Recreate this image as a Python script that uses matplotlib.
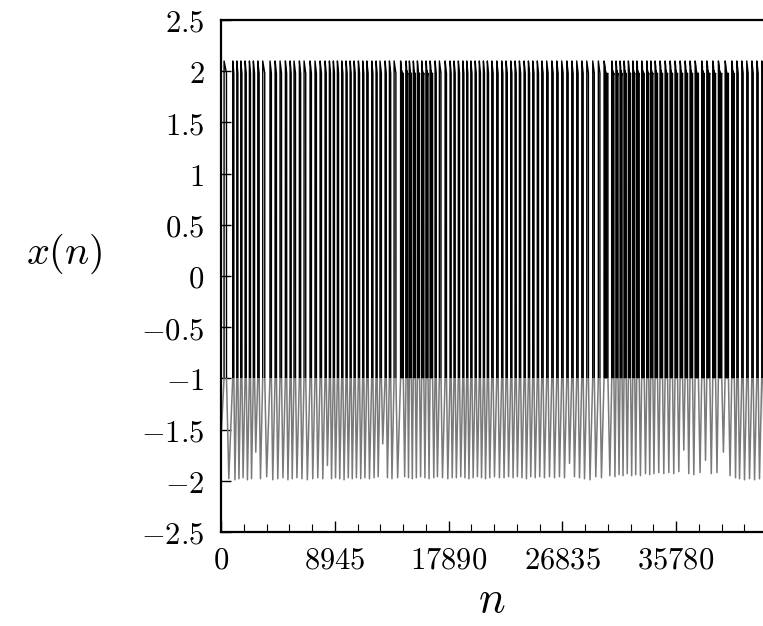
import numpy as np
import matplotlib
matplotlib.use('Agg')
import matplotlib.pyplot as plt
from matplotlib.patches import Rectangle

plt.rcParams['mathtext.fontset'] = 'cm'
plt.rcParams['font.family'] = 'serif'
plt.rcParams['font.serif'] = ['DejaVu Serif']

# spike onsets (n)
spike_n = [240, 920, 1240, 1550, 1890, 2230, 2540, 2890, 3280, 3850,
           4250, 4640, 5060, 5430, 5740, 6160, 6530, 7000, 7390, 7790,
           8180, 8520, 8830, 9150, 9490, 9830, 10150, 10460, 10800, 11140,
           11460, 11850, 12190, 12500, 12900, 13240, 13610, 14120, 14550, 14810,
           15120, 15440, 15780, 16120, 16440, 16830, 17170, 17620, 18010, 18320,
           18660, 19010, 19320, 19640, 19980, 20310, 20630, 20940, 21290, 21680,
           22070, 22410, 22780, 23120, 23460, 23830, 24170, 24510, 24870, 25220,
           25610, 26010, 26400, 26790, 27190, 27580, 27970, 28370, 28760, 29230,
           29670, 30120, 30730, 31060, 31380, 31690, 32030, 32380, 32690, 33080,
           33480, 33790, 34130, 34520, 34920, 35310, 35700, 36100, 36490, 36880,
           37280, 37800, 38200, 38670, 39110, 39640, 40160, 40560, 40950, 41340,
           41740, 42130, 42520]
# lowest value reached after each spike
trough_x = [-1.98, -1.99, -1.98, -1.97, -1.99, -1.98, -1.72, -1.98, -1.96, -1.99,
            -1.98, -1.97, -1.99, -1.98, -1.97, -1.98, -1.99, -1.98, -1.97, -1.98,
            -1.85, -1.98, -1.97, -1.98, -1.99, -1.97, -1.98, -1.97, -1.98, -1.97,
            -1.98, -1.97, -1.96, -1.64, -1.97, -1.98, -1.97, -1.96, -1.97, -1.98,
            -1.97, -1.96, -1.97, -1.98, -1.97, -1.96, -1.97, -1.98, -1.97, -1.97,
            -1.96, -1.97, -1.98, -1.97, -1.96, -1.97, -1.98, -1.97, -1.96, -1.97,
            -1.97, -1.96, -1.97, -1.96, -1.97, -1.98, -1.96, -1.97, -1.96, -1.97,
            -1.96, -1.97, -1.96, -1.97, -1.83, -1.96, -1.97, -1.98, -1.99, -1.96,
            -1.97, -1.95, -1.96, -1.94, -1.95, -1.93, -1.95, -1.94, -1.95, -1.93,
            -1.94, -1.93, -1.92, -1.93, -1.92, -1.93, -1.91, -1.70, -1.93, -1.94,
            -1.92, -1.80, -1.93, -1.92, -1.72, -1.95, -1.97, -1.98, -1.99, -1.98,
            -1.99, -1.98, -1.99]
# stretches where the signal keeps bouncing in the upper branch
bursts = [(14000, 16500), (30000, 40200)]
peak_x = 2.1
top_x = 1.98
reset_x = -1.0

xticks = [0, 8945, 17890, 26835, 35780]
xticklabels = ['$0$', '$8945$', '$17890$', '$26835$', '$35780$']
yticks = [-2.5, -2, -1.5, -1, -0.5, 0, 0.5, 1, 1.5, 2, 2.5]
yticklabels = ['$-2.5$', '$-2$', '$-1.5$', '$-1$', '$-0.5$', '$0$',
               '$0.5$', '$1$', '$1.5$', '$2$', '$2.5$']

# vertices of the trace
nn = [0]
xx = [-1.6]
for i, n0 in enumerate(spike_n):
    P = spike_n[i + 1] - n0 if i + 1 < len(spike_n) else 390
    dense = any(a <= n0 <= b for a, b in bursts)
    nn += [n0, n0 + 3]
    xx += [reset_x, peak_x]
    if dense:
        for k in range(2):
            t = n0 + 0.15 * P * (k + 1)
            nn += [t, t + 3, t + 6]
            xx += [peak_x - 0.06 * (k + 1), reset_x, peak_x - 0.06 * (k + 1) - 0.03]
        end_top = n0 + 0.5 * P
        low_at = n0 + 0.75 * P
    else:
        end_top = n0 + 0.28 * P
        low_at = n0 + 0.55 * P
    nn += [end_top, end_top + 3, low_at, n0 + P - 3]
    xx += [top_x, reset_x, trough_x[i], reset_x]

fig = plt.figure(figsize=(7.63, 6.26), dpi=100)
ax = fig.add_axes([221 / 763, 94 / 626, 542 / 763, 512 / 626])

upper, = ax.plot(nn, xx, color='black', lw=1.0)
lower, = ax.plot(nn, xx, color='#7a7a7a', lw=1.1)
upper.set_clip_path(Rectangle((-1000, reset_x), 60000, 10, transform=ax.transData))
lower.set_clip_path(Rectangle((-1000, -10), 60000, 10 + reset_x, transform=ax.transData))

ax.set_xlim(0, 42620)
ax.set_ylim(-2.5, 2.5)
ax.set_xticks(xticks)
ax.set_xticklabels(xticklabels)
ax.set_xticks(np.arange(0, 42620, 8945 / 5), minor=True)
ax.set_yticks(yticks)
ax.set_yticklabels(yticklabels)
ax.tick_params(axis='both', which='major', direction='in', labelsize=22, width=1.0)
ax.tick_params(axis='x', which='major', length=8, pad=9)
ax.tick_params(axis='x', which='minor', direction='in', length=6, width=0.8)
ax.tick_params(axis='y', which='major', length=7, pad=12)
ax.spines['right'].set_visible(False)
for s in ['left', 'top', 'bottom']:
    ax.spines[s].set_linewidth(1.6)

ax.set_xlabel('$n$', fontsize=32, labelpad=2)
ax.set_ylabel('$x(n)$', fontsize=29, rotation=0, labelpad=0)
ax.yaxis.set_label_coords(-0.29, 0.5)

fig.savefig('out.png', dpi=100)
